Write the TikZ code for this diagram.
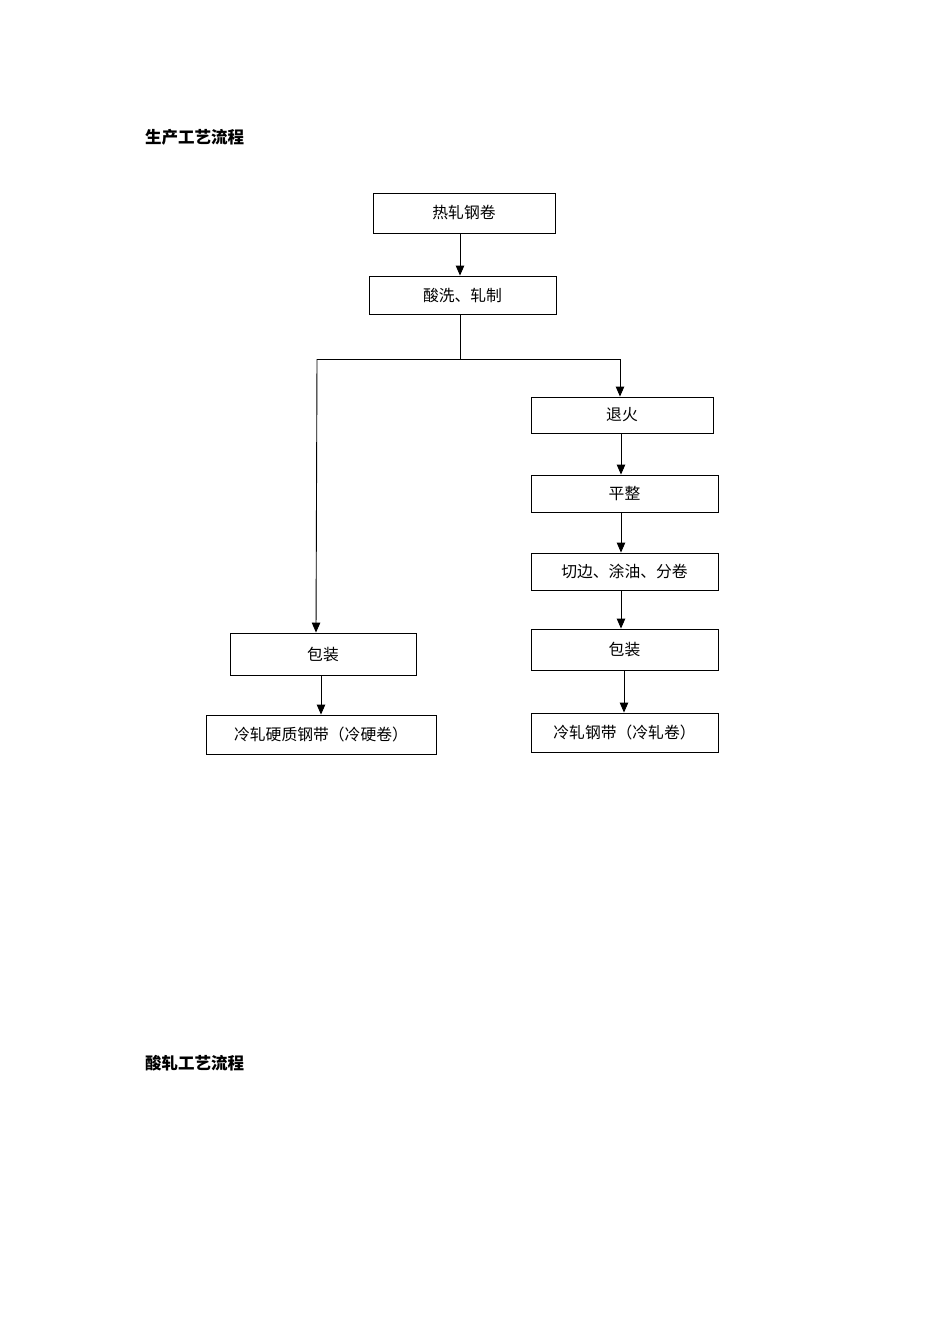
\documentclass[tikz,border=0pt]{standalone}
\usepackage{fontspec}
\newfontfamily\cjk{Noto Sans CJK SC}
\usetikzlibrary{arrows.meta, positioning, calc}

\begin{document}
\begin{tikzpicture}[
    x=1pt, y=-1pt,
    stage/.style={rectangle, draw=black, line width=0.9pt,
                  fill=white, align=center,
                  font=\cjk\fontsize{15.8}{18}\selectfont,
                  inner sep=0pt},
    heading/.style={anchor=west, inner sep=0pt,
                    font=\cjk\bfseries\fontsize{16.5}{19}\selectfont},
    flow/.style={-{Triangle[length=10pt,width=8.5pt]}, line width=0.9pt,
                 color=black},
    link/.style={line width=0.9pt, color=black},
]
\useasboundingbox (0,0) rectangle (950,1344);

% ==========================================================
% Section headings
% ==========================================================
\node[heading] (title1) at (145,137) {生产工艺流程};
\node[heading] (title2) at (145,1063) {酸轧工艺流程};

% ==========================================================
% Common trunk
% ==========================================================
\node[stage, minimum width=182, minimum height=40] (hot) at (464,213)
    {热轧钢卷};
\node[stage, minimum width=187, minimum height=38] (acid) at (462.5,295)
    {酸洗、轧制};
\draw[flow] ($(hot.south)+(-4,0)$) -- ($(acid.north)+(-2.5,0)$);

% -------- split into the two branches -----------
\coordinate (split) at (460,359);
\coordinate (lcorner) at (317,359);
\coordinate (rcorner) at (620,359);
\draw[link] ($(acid.south)+(-2.5,0)$) -- (split);
\draw[link] (lcorner) -- (rcorner);

% ==========================================================
% Right branch: annealed cold rolled coil
% ==========================================================
\node[stage, minimum width=182, minimum height=36] (anneal) at (622,415)
    {退火};
\node[stage, minimum width=187, minimum height=37] (level) at (624.5,493.5)
    {平整};
\node[stage, minimum width=187, minimum height=37] (trim) at (624.5,571.5)
    {切边、涂油、分卷};
\node[stage, minimum width=187, minimum height=41] (packR) at (624.5,649.5)
    {包装};
\node[stage, minimum width=187, minimum height=39] (coilR) at (624.5,732.5)
    {冷轧钢带（冷轧卷）};

\draw[flow] (rcorner) -- (anneal.north -| rcorner);
\draw[flow] ($(anneal.south)+(-1,0)$) -- ($(level.north)+(-3.5,0)$);
\draw[flow] ($(level.south)+(-3.5,0)$) -- ($(trim.north)+(-3.5,0)$);
\draw[flow] ($(trim.south)+(-3.5,0)$) -- ($(packR.north)+(-3.5,0)$);
\draw[flow] ($(packR.south)+(-0.5,0)$) -- ($(coilR.north)+(-0.5,0)$);

% ==========================================================
% Left branch: full hard coil
% ==========================================================
\node[stage, minimum width=186, minimum height=42] (packL) at (323,654)
    {包装};
\node[stage, minimum width=230, minimum height=39] (coilL) at (321,734.5)
    {冷轧硬质钢带（冷硬卷）};

\draw[flow] (lcorner) -- ($(packL.north)+(-7,0)$);
\draw[flow] ($(packL.south)+(-2,0)$) -- ($(coilL.north)+(0,0)$);

\end{tikzpicture}
\end{document}
